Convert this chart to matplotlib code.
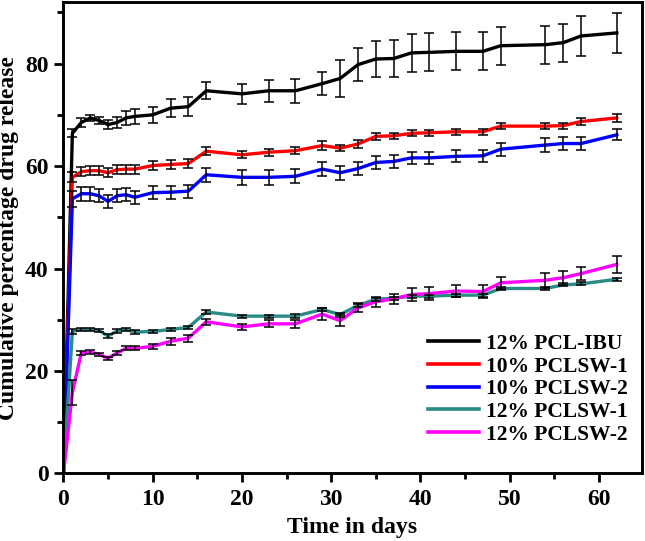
import numpy as np
import matplotlib
matplotlib.use('Agg')
import matplotlib.pyplot as plt
from matplotlib.ticker import MultipleLocator

days = [0, 1, 2, 3, 4, 5, 6, 7, 8, 10, 12, 14, 16, 20, 23, 26, 29, 31,
        33, 35, 37, 39, 41, 44, 47, 49, 54, 56, 58, 62]

pcl_ibu = [0, 66.4, 68.5, 69.4, 68.9, 68.1, 68.5, 69.4, 69.7, 70.0, 71.3, 71.6, 74.7, 74.1, 74.7,
           74.7, 76.1, 77.1, 79.8, 80.9, 81.0, 82.1, 82.2, 82.4, 82.4, 83.5, 83.7, 84.1, 85.4, 86.0]
pcl_ibu_err = [0, 0.8, 0.8, 0.6, 0.7, 0.9, 1.0, 1.3, 1.5, 1.6, 1.7, 1.8, 1.7, 1.9, 2.1,
               2.3, 2.3, 3.6, 3.2, 3.6, 3.6, 3.7, 3.7, 3.7, 3.7, 3.7, 3.7, 3.7, 3.9, 3.9]

sw1_10 = [0, 57.8, 58.9, 59.1, 59.1, 58.7, 59.3, 59.4, 59.4, 60.1, 60.3, 60.5, 62.9, 62.2, 62.7,
          63.0, 64.0, 63.5, 64.3, 65.8, 65.9, 66.4, 66.5, 66.7, 66.7, 67.8, 67.8, 67.9, 68.7, 69.4]
sw1_10_err = [0, 1.0, 0.9, 0.9, 0.9, 0.9, 0.9, 0.9, 0.9, 0.8, 0.8, 0.8, 0.8, 0.7, 0.7,
              0.7, 0.8, 0.6, 0.7, 0.65, 0.6, 0.6, 0.6, 0.6, 0.6, 0.6, 0.6, 0.6, 0.6, 0.7]

sw2_10 = [0, 53.6, 54.6, 54.6, 54.2, 53.1, 54.2, 54.4, 53.9, 54.8, 54.9, 55.1, 58.3, 57.8, 57.8,
          58.0, 59.4, 58.7, 59.5, 60.7, 60.9, 61.6, 61.6, 61.9, 62.0, 63.3, 64.1, 64.4, 64.4, 66.1]
sw2_10_err = [0, 1.6, 1.4, 1.4, 1.3, 1.3, 1.3, 1.3, 1.3, 1.3, 1.3, 1.3, 1.4, 1.4, 1.4,
              1.4, 1.3, 1.4, 1.3, 1.2, 1.2, 1.2, 1.2, 1.2, 1.2, 1.3, 1.3, 1.2, 1.2, 1.1]

sw1_12 = [0, 27.7, 28.1, 28.1, 27.9, 26.8, 27.8, 28.1, 27.6, 27.7, 28.1, 28.5, 31.5, 30.7, 30.7,
          30.7, 32.0, 31.0, 32.8, 34.0, 34.2, 34.6, 34.6, 34.8, 34.8, 36.1, 36.1, 36.8, 37.0, 37.9]
sw1_12_err = [0, 0.4, 0.3, 0.3, 0.3, 0.4, 0.3, 0.3, 0.3, 0.3, 0.3, 0.3, 0.4, 0.3, 0.3,
              0.4, 0.3, 0.4, 0.4, 0.3, 0.3, 0.3, 0.3, 0.3, 0.3, 0.3, 0.3, 0.3, 0.3, 0.3]

sw2_12 = [0, 15.8, 23.5, 23.7, 23.2, 22.5, 23.5, 24.4, 24.4, 24.8, 25.8, 26.4, 29.6, 28.6, 29.2,
          29.2, 31.1, 29.8, 32.3, 33.5, 34.1, 34.9, 35.1, 35.6, 35.5, 37.2, 37.7, 38.2, 39.0, 40.8]
sw2_12_err = [0, 2.4, 0.3, 0.3, 0.3, 0.3, 0.3, 0.4, 0.4, 0.5, 0.65, 0.7, 0.55, 0.65, 0.7,
              0.8, 1.1, 1.1, 0.8, 1.0, 1.0, 1.2, 1.3, 1.2, 1.2, 1.2, 1.5, 1.4, 1.3, 1.6]

labels = ['12% PCL-IBU', '10% PCLSW-1', '10% PCLSW-2', '12% PCLSW-1', '12% PCLSW-2']
colors = ['black', '#ff0000', '#0000ff', '#2a8a86', '#ff00ff']
series = [(pcl_ibu, pcl_ibu_err), (sw1_10, sw1_10_err), (sw2_10, sw2_10_err),
          (sw1_12, sw1_12_err), (sw2_12, sw2_12_err)]

plt.rcParams['font.family'] = ['Liberation Serif', 'DejaVu Serif']
plt.rcParams['font.weight'] = 'bold'

fig = plt.figure(figsize=(6.45, 5.41), dpi=100)
ax = fig.add_axes([0.097, 0.125, 0.898, 0.871])

x = np.array(days)
for (y, e), c, lab in zip(series, colors, labels):
    y = np.array(y)
    e = np.array(e)
    ax.plot(x, y, color=c, lw=2.4, label=lab, zorder=2)
    ax.errorbar(x[1:], y[1:], yerr=e[1:], fmt='none', ecolor='black',
                elinewidth=1.1, capsize=3.5, capthick=1.1, zorder=3)

ax.set_xlim(-0.1, 64.8)
ax.set_ylim(0, 92)
ax.xaxis.set_major_locator(MultipleLocator(10))
ax.xaxis.set_minor_locator(MultipleLocator(5))
ax.yaxis.set_major_locator(MultipleLocator(20))
ax.yaxis.set_minor_locator(MultipleLocator(10))
ax.tick_params(which='both', direction='out', width=2, labelsize=17)
ax.tick_params(which='major', length=6.5)
ax.tick_params(which='minor', length=4.5)
ax.tick_params(axis='x', which='major', pad=5)
for s in ax.spines.values():
    s.set_linewidth(2.1)

ax.set_xlabel('Time in days', fontsize=17, fontweight='bold', labelpad=5)
ax.set_ylabel('Cumulative percentage drug release', fontsize=17, fontweight='bold', labelpad=4)

leg = ax.legend(loc='lower right', bbox_to_anchor=(1.009, 0.02), frameon=False,
                fontsize=15.5, handlelength=2.4, handletextpad=0.3, labelspacing=0.12)
for h in leg.get_lines():
    h.set_linewidth(2.6)

fig.savefig('out.png', dpi=100)
